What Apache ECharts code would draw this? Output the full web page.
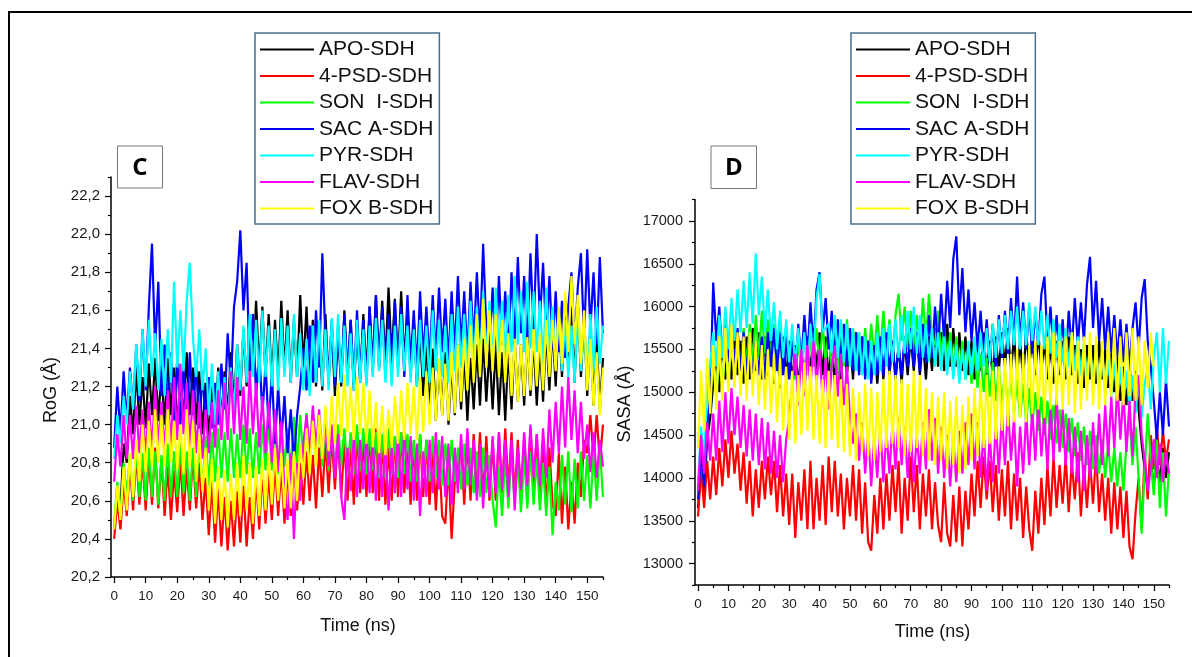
<!DOCTYPE html>
<html>
<head>
<meta charset="utf-8">
<script src="https://cdn.jsdelivr.net/npm/echarts@6/dist/echarts.min.js"></script>
<style>
html,body{margin:0;padding:0;background:#fff;}
#chart{width:1192px;height:657px;}
</style>
</head>
<body>
<div id="chart"></div>
<script>
// ---------- names / ticks ----------
const seriesNames = ['APO-SDH','4-PSD-SDH','SON  I-SDH','SAC A-SDH','PYR-SDH','FLAV-SDH','FOX B-SDH'];
const seriesColors = ['#000000','#ff0000','#00ff00','#0000ff','#00ffff','#ff00ff','#ffff00'];
const TIME_STEP = 1; // ns between samples
const xTicks = [0,10,20,30,40,50,60,70,80,90,100,110,120,130,140,150];
const xMinorTicks = [5,15,25,35,45,55,65,75,85,95,105,115,125,135,145,155];
const rogTicks = [20.2,20.4,20.6,20.8,21.0,21.2,21.4,21.6,21.8,22.0,22.2];
const rogMinorTicks = [20.3,20.5,20.7,20.9,21.1,21.3,21.5,21.7,21.9,22.1,22.3];
const sasaTicks = [13000,13500,14000,14500,15000,15500,16000,16500,17000];
const sasaMinorTicks = [12750,13250,13750,14250,14750,15250,15750,16250,16750,17250];

// ---------- RoG (panel C), one value per ns ----------
const rogAPO = [20.45,20.65,20.55,20.90,20.80, 21.15,20.95,21.30,21.00,21.25, 20.98,21.32,21.05,21.35,21.02, 21.28,21.00,21.35,21.05,21.30,
20.98,21.25,21.02,21.38,21.05, 21.30,21.00,21.28,20.95,21.22, 20.92,21.20,20.98,21.30,21.02, 21.28,21.05,21.38,21.10,21.42,
21.15,21.50,21.20,21.58,21.25, 21.65,21.28,21.62,21.25,21.58, 21.22,21.55,21.25,21.65,21.28, 21.60,21.22,21.55,21.25,21.68,
21.30,21.62,21.22,21.55,21.20, 21.50,21.18,21.58,21.22,21.52, 21.15,21.48,21.20,21.60,21.25, 21.55,21.18,21.50,21.22,21.58,
21.25,21.62,21.28,21.68,21.30, 21.65,21.32,21.72,21.35,21.66, 21.30,21.70,21.32,21.62,21.25, 21.55,21.20,21.50,21.15,21.45,
21.05,21.40,21.02,21.35,21.05, 21.38,21.00,21.32,21.05,21.42, 21.08,21.38,21.02,21.35,21.08, 21.42,21.10,21.45,21.12,21.40,
21.08,21.42,21.05,21.38,21.02, 21.40,21.08,21.45,21.12,21.42, 21.10,21.48,21.15,21.45,21.10, 21.42,21.12,21.50,21.18,21.52,
21.20,21.58,21.25,21.65,21.28, 21.62,21.22,21.66,21.25,21.58, 21.15,21.52,21.10,21.45,21.08,21.35];
const rogPSD = [20.40,20.60,20.45,20.70,20.52, 20.80,20.55,20.85,20.58,20.82, 20.55,20.84,20.58,20.88,20.56, 20.82,20.52,20.78,20.50,20.76,
20.54,20.82,20.52,20.78,20.55, 20.85,20.56,20.80,20.50,20.72, 20.42,20.70,20.38,20.66,20.36, 20.62,20.34,20.60,20.36,20.65,
20.38,20.68,20.36,20.62,20.40, 20.72,20.45,20.76,20.48,20.74, 20.50,20.80,20.52,20.78,20.48, 20.76,20.52,20.82,20.55,20.80,
20.58,20.86,20.60,20.84,20.56, 20.88,20.62,20.92,20.64,20.94, 20.66,20.96,20.62,20.92,20.60, 20.90,20.58,20.98,20.64,20.92,
20.62,20.95,20.64,20.98,20.60, 20.92,20.58,20.88,20.60,20.94, 20.62,20.96,20.64,20.90,20.58, 20.90,20.60,20.95,20.62,20.92,
20.58,20.90,20.55,20.86,20.52, 20.48,20.80,20.40,20.70,20.80, 20.88,20.58,20.92,20.60,20.95, 20.64,20.96,20.62,20.94,20.60,
20.92,20.60,20.96,20.64,20.98, 20.66,20.96,20.62,20.92,20.60, 20.94,20.62,20.98,20.66,20.95, 20.60,20.90,20.56,20.88,20.58,
20.52,20.85,20.48,20.78,20.45, 20.70,20.48,20.80,20.62,20.92, 20.85,21.05,20.82,21.05,20.80,21.00];
const rogSON = [20.48,20.70,20.52,20.80,20.62, 20.85,20.60,20.88,20.62,20.85, 20.60,20.88,20.62,20.86,20.58, 20.84,20.60,20.90,20.62,20.86,
20.62,20.90,20.64,20.86,20.60, 20.88,20.62,20.92,20.66,20.94, 20.68,20.96,20.70,20.98,20.72, 20.96,20.70,20.98,20.72,20.95,
20.72,21.00,20.74,20.98,20.72, 20.96,20.74,21.00,20.76,21.02, 20.76,21.00,20.74,21.02,20.78, 20.98,20.76,21.04,20.80,21.05,
20.80,21.06,20.82,21.04,20.80, 21.02,20.78,21.00,20.76,20.98, 20.76,21.00,20.78,20.98,20.74, 20.96,20.74,21.00,20.76,20.98,
20.74,20.98,20.76,20.96,20.72, 20.95,20.72,20.98,20.74,20.94, 20.72,20.96,20.74,20.95,20.70, 20.92,20.70,20.95,20.72,20.92,
20.70,20.94,20.72,20.92,20.68, 20.90,20.68,20.92,20.70,20.88, 20.66,20.90,20.68,20.88,20.64, 20.86,20.62,20.88,20.64,20.84,
20.60,20.46,20.78,20.52,20.84, 20.56,20.86,20.58,20.82,20.54, 20.84,20.56,20.86,20.58,20.82, 20.55,20.80,20.52,20.78,20.42,
20.70,20.55,20.84,20.58,20.86, 20.54,20.82,20.56,20.86,20.60, 20.84,20.56,20.86,20.60,20.88,20.62];
const rogSAC = [20.88,21.20,20.95,21.28,21.02, 21.30,21.08,21.42,21.12,21.50, 21.18,21.62,21.95,21.40,21.75, 21.15,21.42,21.05,21.38,21.02,
21.35,21.00,21.30,21.02,21.38, 21.05,21.32,20.98,21.28,21.00, 21.25,20.98,21.22,21.00,21.32, 21.08,21.48,21.20,21.62,21.75,
22.02,21.60,21.85,21.28,21.58, 21.15,21.40,21.05,21.32,20.98, 21.28,20.90,21.20,20.92,21.15, 20.85,21.08,20.80,21.05,21.20,
21.40,21.18,21.52,21.22,21.60, 21.30,21.90,21.45,21.25,21.55, 21.20,21.52,21.22,21.58,21.25, 21.55,21.20,21.60,21.25,21.55,
21.22,21.62,21.28,21.68,21.30, 21.62,21.25,21.58,21.28,21.65, 21.30,21.62,21.25,21.68,21.32, 21.60,21.28,21.70,21.35,21.62,
21.32,21.68,21.35,21.72,21.38, 21.66,21.32,21.70,21.38,21.78, 21.40,21.70,21.35,21.75,21.42, 21.80,21.45,21.95,21.50,21.40,
21.72,21.38,21.78,21.42,21.70, 21.38,21.80,21.45,21.88,21.48, 21.78,21.42,21.90,21.50,22.00, 21.55,21.85,21.45,21.78,21.40,
21.70,21.38,21.65,21.35,21.62, 21.80,21.42,21.72,21.90,21.45, 21.92,21.50,21.80,21.42,21.88,21.48];
const rogPYR = [20.82,21.05,20.90,21.15,21.00, 21.28,21.08,21.42,21.15,21.50, 21.20,21.55,21.25,21.48,21.18, 21.45,21.15,21.50,21.22,21.75,
21.30,21.60,21.28,21.65,21.85, 21.45,21.25,21.50,21.18,21.40, 21.05,21.32,21.00,21.28,20.98, 21.25,20.98,21.30,21.05,21.42,
21.18,21.52,21.22,21.58,21.25, 21.55,21.22,21.60,21.25,21.52, 21.20,21.50,21.18,21.56,21.25, 21.52,21.22,21.58,21.25,21.48,
21.18,21.45,21.15,21.52,21.22, 21.55,21.20,21.50,21.18,21.56, 21.25,21.58,21.22,21.52,21.20, 21.48,21.18,21.55,21.22,21.50,
21.20,21.52,21.25,21.56,21.28, 21.55,21.22,21.50,21.20,21.52, 21.25,21.58,21.28,21.52,21.22, 21.50,21.20,21.55,21.25,21.52,
21.22,21.60,21.28,21.55,21.25, 21.52,21.22,21.58,21.28,21.62, 21.30,21.58,21.28,21.65,21.32, 21.62,21.30,21.70,21.35,21.65,
21.32,21.72,21.38,21.65,21.35, 21.68,21.38,21.78,21.42,21.70, 21.38,21.75,21.40,21.70,21.38, 21.65,21.32,21.72,21.38,21.62,
21.30,21.60,21.28,21.55,21.25, 21.52,21.22,21.62,21.28,21.55, 21.22,21.58,21.28,21.62,21.32,21.52];
const rogFLAV = [20.70,20.95,20.78,21.05,20.82, 21.05,20.82,21.10,20.85,21.08, 20.84,21.12,20.86,21.20,20.88, 21.12,20.85,21.18,20.88,21.25,
20.92,21.32,20.95,21.22,20.88, 21.18,20.85,21.12,20.82,21.08, 20.85,21.12,20.88,21.18,20.92, 21.22,20.92,21.28,20.95,21.25,
20.92,21.20,20.90,21.28,20.95, 21.22,20.88,21.15,20.85,21.12, 20.80,21.08,20.75,21.02,20.65, 20.50,20.85,20.40,20.80,20.60,
20.90,21.05,20.85,21.10,20.88, 21.08,20.82,21.05,20.78,21.00, 20.72,20.95,20.62,20.50,20.88, 20.65,20.94,20.62,20.92,20.66,
20.96,20.64,20.92,20.60,20.90, 20.62,20.92,20.55,20.88,20.64, 20.95,20.62,20.98,20.66,20.94, 20.60,20.90,20.52,20.86,20.62,
20.92,20.64,20.96,20.66,20.94, 20.62,20.90,20.58,20.88,20.64, 20.95,20.66,20.98,20.68,20.92, 20.60,20.90,20.56,20.86,20.62,
20.94,20.64,20.96,20.66,20.92, 20.62,20.92,20.55,20.88,20.66, 20.96,20.68,21.00,20.72,20.95, 20.68,20.98,20.72,21.08,20.80,
21.12,20.85,21.20,20.88,21.25, 20.92,21.18,20.85,21.12,20.82, 21.00,20.75,20.96,20.72,20.92,20.78];
const rogFOX = [20.45,20.68,20.50,20.78,20.55, 20.85,20.62,20.92,20.70,21.00, 20.75,21.02,20.78,21.08,20.80, 21.05,20.78,21.08,20.80,21.02,
20.76,21.00,20.74,21.08,20.78, 21.02,20.70,20.95,20.65,20.88, 20.55,20.82,20.48,20.78,20.50, 20.76,20.46,20.74,20.50,20.80,
20.52,20.84,20.55,20.80,20.48, 20.78,20.52,20.82,20.55,20.85, 20.58,20.88,20.60,20.85,20.56, 20.82,20.56,20.86,20.60,20.90,
20.72,20.98,20.74,21.02,20.78, 21.05,20.82,21.10,20.86,21.15, 20.90,21.22,20.94,21.26,20.96, 21.20,20.92,21.25,20.95,21.22,
20.90,21.18,20.88,21.12,20.85, 21.10,20.84,21.08,20.88,21.15, 20.90,21.18,20.92,21.22,20.95, 21.20,20.92,21.25,20.96,21.28,
21.00,21.30,21.02,21.35,21.05, 21.32,21.02,21.38,21.06,21.42, 21.12,21.45,21.18,21.52,21.22, 21.58,21.25,21.66,21.30,21.60,
21.28,21.58,21.25,21.55,21.22, 21.48,21.15,21.45,21.12,21.42, 21.15,21.46,21.18,21.50,21.20, 21.48,21.18,21.55,21.25,21.55,
21.28,21.62,21.32,21.70,21.38, 21.78,21.42,21.68,21.32,21.60, 21.18,21.45,21.10,21.38,21.05,21.30];

// ---------- SASA (panel D), one value per ns ----------
const sasaAPO = [13650,14100,13800,14450,14700, 15100,15450,15000,15600,15150, 15650,15150,15700,15200,15600, 15100,15650,15150,15750,15250,
15700,15150,15650,15200,15600, 15100,15550,15050,15650,15150, 15600,15100,15550,15050,15500, 15150,15650,15200,15750,15250,
15700,15200,15650,15150,15600, 15100,15550,15150,15650,15200, 15600,15150,15700,15250,15650, 15200,15600,15150,15550,15100,
15550,15150,15650,15200,15600, 15150,15550,15100,15600,15200, 15650,15250,15700,15200,15600, 15150,15650,15250,15750,15300,
15700,15250,15800,15300,15750, 15300,15700,15250,15650,15200, 15600,15150,15650,15250,15700, 15200,15600,15150,15650,15250,
15700,15300,15750,15250,15650, 15200,15600,15150,15700,15300, 15650,15200,15700,15250,15600, 15150,15550,15100,15600,15200,
15600,15150,15650,15200,15550, 15100,15500,15050,15550,15150, 15550,15100,15600,15150,15500, 15050,15450,15000,15400,14900,
15300,14850,15350,14900,15250, 14800,14400,14100,13900,14200, 13900,14250,13950,14350,14000,14300];
const sasaPSD = [13550,14100,13650,14200,13750, 14250,13800,14350,13900,14450, 14000,14550,14050,14400,13850, 14300,13700,14200,13550,14100,
13650,14200,13750,14250,13800, 14200,13600,14150,13550,14050, 13450,14050,13300,13950,13500, 14100,13400,14200,13400,14000,
13500,14150,13450,14250,13600, 14200,13550,14050,13400,14000, 13550,14150,13500,14100,13350, 13950,13250,13150,13800,13350,
14000,13400,14050,13500,14150, 13600,14200,13350,14000,13500, 14250,13600,14150,13400,14050, 13550,14100,13400,13950,13450,
13250,13950,13350,13200,13800, 13250,13900,13200,13850,13400, 14050,13550,14200,13650,14250, 13750,14200,13600,14150,13500,
14100,13550,14200,13400,14050, 13500,14000,13300,13900,13400, 13150,13850,13350,14000,13450, 14150,13550,14250,13650,14150,
13700,14250,13600,14200,13750, 14300,13550,14150,13650,14200, 13700,14300,13600,14050,13500, 14000,13350,13950,13400,13900,
13300,13850,13200,13050,13600, 14000,13400,14300,13750,14500, 14100,14600,14150,14550,14200,14450];
const sasaSON = [13850,14400,14050,14700,14950, 15350,14950,15500,15050,15600, 15150,15650,15200,15700,15250, 15750,15300,15800,15350,15900,
15400,15950,15450,15850,15350, 15800,15300,15750,15250,15700, 15200,15650,15150,15600,15250, 15700,15200,15650,15300,15750,
15300,15800,15350,15750,15250, 15700,15200,15650,15300,15850, 15350,15750,15250,15700,15300, 15750,15350,15800,15400,15900,
15450,15950,15500,15850,15400, 15900,16150,15600,16000,15500, 15950,15450,15900,15500,16100, 15600,16150,15650,15550,15950,
15400,15800,15300,15700,15250, 15650,15200,15600,15150,15550, 15100,15500,15050,15450,15000, 15400,14950,15350,14900,15300,
14850,15250,14800,15200,14750, 15150,14700,15100,14650,15050, 14600,15000,14550,14950,14500, 14900,14450,14850,14400,14800,
14350,14750,14300,14700,14250, 14650,14200,14600,14150,14550, 14100,14500,14050,14450,14000, 14400,13950,14350,13900,14300,
13850,14400,14700,14150,14600, 14000,13350,14100,14750,14200, 13800,14450,13650,14300,13550,14100];
const sasaSAC = [13750,14300,13900,14600,14950, 16280,15600,16000,15400,15850, 15350,15800,15300,15750,15250, 15700,15200,15650,15150,15600,
15200,15650,15150,15700,15300, 15750,15250,15700,15200,15650, 15150,15600,15200,15800,15350, 15900,15400,16050,15500,16200,
16400,15700,16100,15500,15950, 15400,15850,15350,15800,15300, 15750,15250,15700,15200,15650, 15150,15600,15100,15550,15200,
15650,15200,15700,15250,15600, 15150,15550,15200,15650,15300, 15750,15300,15700,15250,15800, 15350,15900,15400,16000,15500,
16150,15600,16300,15750,16550, 16820,15900,16450,15700,16200, 15600,16050,15500,15950,15400, 15850,15350,15800,15300,15900,
15400,15950,15450,16100,15550, 16350,15600,16050,15500,16000, 15450,15950,15550,16150,16350, 15600,16000,15450,15900,15400,
15850,15350,15950,15500,16100, 15550,16050,15600,16250,16580, 15750,16300,15600,16100,15500, 16000,15450,15900,15400,15850,
15350,15800,15300,15750,16050, 15500,16100,16320,15600,15300, 14900,14450,15000,14500,15150,14600];
const sasaPYR = [13950,14600,14250,15000,15350, 15700,15300,15900,15400,16000, 15500,16100,15600,16200,15700, 16300,15750,16400,15800,16620,
15900,16350,15700,16200,15600, 16050,15500,15950,15400,15850, 15350,15800,15300,15750,15250, 15700,15200,15800,15350,16100,
16380,15700,15750,15800,15450, 15900,15400,15850,15350,15800, 15300,15750,15250,15700,15200, 15650,15150,15600,15200,15700,
15250,15750,15300,15800,15350, 15850,15400,15900,15450,15950, 15500,16000,15450,15900,15400, 15800,15350,15750,15300,15700,
15250,15650,15200,15600,15150, 15550,15100,15500,15150,15600, 15200,15650,15250,15700,15300, 15750,15350,15800,15400,15850,
15450,15900,15500,15950,15550, 16000,15500,15950,15550,16050, 15600,16000,15550,15950,15500, 15900,15450,15850,15400,15800,
15350,15750,15300,15700,15250, 15650,15200,15600,15150,15550, 15100,15500,15050,15450,15000, 15400,14950,15350,14900,15300,
14850,15250,14800,15200,14750, 15150,14700,15100,15300,14800, 15400,15700,15000,15750,15100,15600];
const sasaFLAV = [13850,14500,14050,14650,14200, 14750,14200,14900,14300,15000, 14400,15050,14500,14950,14350, 14850,14250,14800,14200,14750,
14150,14700,14100,14650,14050, 14550,14000,14500,13950,14450, 14700,15100,15450,14850,15500, 14950,15550,15050,15600,15100,
15500,14900,15400,14800,15300, 15550,14950,15450,14850,15300, 14700,14400,14750,14200,14650, 14050,14550,13900,14500,14000,
14600,13950,14550,14050,14650, 14100,14700,14150,14600,14000, 14550,13950,14500,14050,14650, 14100,14800,14200,14700,14050,
14600,14000,14500,13900,14450, 13950,14550,14050,14650,14150, 14750,14100,14650,14000,14550, 13850,14500,13950,14650,14050,
14750,14150,14850,14200,14700, 13900,14600,14050,14750,14150, 14800,14200,14900,14250,14750, 14100,14850,14200,14950,14300,
14800,14150,14700,14050,14600, 13950,14550,13850,14500,14000, 14650,14050,14750,14150,14850, 14250,14950,14350,15100,14450,
15000,14300,14900,14250,15050, 15200,14500,14200,13850,14100, 14450,14000,14400,13950,14300,14050];
const sasaFOX = [14350,15250,14550,15400,14750, 15550,14800,15650,14900,15750, 15000,15800,15050,15700,14950, 15650,14900,15700,14950,15600,
14850,15550,14800,15500,14750, 15450,14650,15400,14550,15300, 14450,15250,14400,15200,14500, 15350,14550,15300,14450,15200,
14400,15150,14350,15250,14450, 15200,14350,15150,14300,15100, 14250,15050,14200,15000,14300, 15100,14250,15050,14200,15000,
14300,15150,14350,15250,14400, 15200,14350,15150,14250,15100, 14300,15250,14350,15200,14250, 15050,14200,15000,14150,14950,
14200,15000,14100,14900,14150, 14950,14050,14850,14100,14950, 14200,15050,14250,15150,14350, 15200,14400,15250,14450,15300,
14550,15400,14600,15450,14650, 15500,14700,15450,14650,15550, 14750,15600,14800,15550,14700, 15650,14800,15700,14850,15600,
14800,15650,14850,15700,14750, 15600,14800,15650,14900,15700, 14850,15650,14800,15600,14850, 15700,14950,15750,14900,15650,
14850,15700,14950,15750,14900, 15650,14850,15600,15050,15700, 15300];

const rogData = [rogAPO, rogPSD, rogSON, rogSAC, rogPYR, rogFLAV, rogFOX];
const sasaData = [sasaAPO, sasaPSD, sasaSON, sasaSAC, sasaPYR, sasaFLAV, sasaFOX];

// ---------- chart ----------
const FONT = "'Liberation Sans', Arial, sans-serif";
const chart = echarts.init(document.getElementById('chart'), null, {renderer: 'canvas'});

function pairs(arr){ return arr.map((v, i) => [i * TIME_STEP, v]); }

function xAxisPair(gi){
  return [
    {gridIndex: gi, type: 'value', position: 'bottom', min: -1, max: 155,
      axisLine: {show: true, onZero: false, lineStyle: {color: '#000', width: 1.5}},
      axisTick: {show: true, customValues: xTicks, length: 6, lineStyle: {color: '#000', width: 1.2}},
      axisLabel: {customValues: xTicks, fontSize: 13.5, fontFamily: FONT, color: '#1a1a1a', margin: 12},
      splitLine: {show: false}},
    {gridIndex: gi, type: 'value', position: 'bottom', min: -1, max: 155,
      axisLine: {show: false, onZero: false},
      axisTick: {show: true, customValues: xMinorTicks, length: 3, lineStyle: {color: '#000', width: 1.2}},
      axisLabel: {show: false}, splitLine: {show: false}}
  ];
}

const rogFmt = v => v.toFixed(1).replace('.', ',');
const sasaFmt = v => String(Math.round(v));

const LW = 2.2;
const option = {
  backgroundColor: '#ffffff',
  animation: false,
  color: seriesColors,
  grid: [
    {left: 111, top: 177, right: 589, bottom: 80, containLabel: false},
    {left: 695, top: 199.5, right: 23, bottom: 72, containLabel: false}
  ],
  legend: [
    {orient: 'vertical', left: 255, top: 33, icon: 'rect', itemWidth: 54, itemHeight: 2, itemGap: 5.5,
      padding: [6, 6, 5, 5], borderColor: '#46708f', borderWidth: 1.5, backgroundColor: '#fff',
      textStyle: {fontSize: 21, fontFamily: FONT, color: '#111', lineHeight: 21},
      data: seriesNames, selectedMode: false},
    {orient: 'vertical', left: 851, top: 33, icon: 'rect', itemWidth: 54, itemHeight: 2, itemGap: 5.5,
      padding: [6, 6, 5, 5], borderColor: '#46708f', borderWidth: 1.5, backgroundColor: '#fff',
      textStyle: {fontSize: 21, fontFamily: FONT, color: '#111', lineHeight: 21},
      data: seriesNames, selectedMode: false}
  ],
  xAxis: [...xAxisPair(0), ...xAxisPair(1)],
  yAxis: [
    {gridIndex: 0, type: 'value', position: 'left', min: 20.2, max: 22.3,
      axisLine: {show: true, onZero: false, lineStyle: {color: '#000', width: 1.5}},
      axisTick: {show: true, customValues: rogTicks, length: 6, lineStyle: {color: '#000', width: 1.2}},
      axisLabel: {customValues: rogTicks, formatter: rogFmt, fontSize: 15, fontFamily: FONT, color: '#1a1a1a', margin: 11},
      splitLine: {show: false}},
    {gridIndex: 0, type: 'value', position: 'left', min: 20.2, max: 22.3,
      axisLine: {show: false, onZero: false},
      axisTick: {show: true, customValues: rogMinorTicks, length: 3, lineStyle: {color: '#000', width: 1.2}},
      axisLabel: {show: false}, splitLine: {show: false}},
    {gridIndex: 1, type: 'value', position: 'left', min: 12750, max: 17250,
      axisLine: {show: true, onZero: false, lineStyle: {color: '#000', width: 1.5}},
      axisTick: {show: true, customValues: sasaTicks, length: 6, lineStyle: {color: '#000', width: 1.2}},
      axisLabel: {customValues: sasaTicks, formatter: sasaFmt, fontSize: 14.5, fontFamily: FONT, color: '#1a1a1a', margin: 12},
      splitLine: {show: false}},
    {gridIndex: 1, type: 'value', position: 'left', min: 12750, max: 17250,
      axisLine: {show: false, onZero: false},
      axisTick: {show: true, customValues: sasaMinorTicks, length: 3, lineStyle: {color: '#000', width: 1.2}},
      axisLabel: {show: false}, splitLine: {show: false}}
  ],
  series: [
    ...seriesNames.map((name, k) => ({
      name, type: 'line', xAxisIndex: 0, yAxisIndex: 0, data: pairs(rogData[k]),
      symbol: 'none', showSymbol: false, lineStyle: {width: LW, color: seriesColors[k]},
      itemStyle: {color: seriesColors[k]}, silent: true
    })),
    ...seriesNames.map((name, k) => ({
      name, type: 'line', xAxisIndex: 2, yAxisIndex: 2, data: pairs(sasaData[k]),
      symbol: 'none', showSymbol: false, lineStyle: {width: LW, color: seriesColors[k]},
      itemStyle: {color: seriesColors[k]}, silent: true
    }))
  ],
  graphic: [
    {type: 'rect', shape: {x: 9, y: 12, width: 1400, height: 900}, style: {fill: 'none', stroke: '#000', lineWidth: 2}, silent: true, z: 100},
    {type: 'rect', shape: {x: 117.5, y: 146, width: 45, height: 42}, style: {fill: '#fff', stroke: '#777', lineWidth: 1}, z: 100},
    {type: 'text', x: 140, y: 168, style: {text: 'C', font: "bold 24px 'Open Sans', 'DejaVu Sans', sans-serif", fill: '#000', textAlign: 'center', textVerticalAlign: 'middle'}, z: 101},
    {type: 'rect', shape: {x: 711, y: 146, width: 45.5, height: 42.5}, style: {fill: '#fff', stroke: '#777', lineWidth: 1}, z: 100},
    {type: 'text', x: 733.8, y: 168, style: {text: 'D', font: "bold 24px 'Open Sans', 'DejaVu Sans', sans-serif", fill: '#000', textAlign: 'center', textVerticalAlign: 'middle'}, z: 101},
    {type: 'text', x: 51, y: 390, rotation: Math.PI / 2, style: {text: 'RoG (Å)', font: "18px 'Liberation Sans', Arial, sans-serif", fill: '#111', textAlign: 'center', textVerticalAlign: 'middle'}, z: 101},
    {type: 'text', x: 358, y: 626, style: {text: 'Time (ns)', font: "18px 'Liberation Sans', Arial, sans-serif", fill: '#111', textAlign: 'center', textVerticalAlign: 'middle'}, z: 101},
    {type: 'text', x: 625.5, y: 404, rotation: Math.PI / 2, style: {text: 'SASA (Å)', font: "18px 'Liberation Sans', Arial, sans-serif", fill: '#111', textAlign: 'center', textVerticalAlign: 'middle'}, z: 101},
    {type: 'text', x: 932.5, y: 632, style: {text: 'Time (ns)', font: "18px 'Liberation Sans', Arial, sans-serif", fill: '#111', textAlign: 'center', textVerticalAlign: 'middle'}, z: 101}
  ]
};
chart.setOption(option);
</script>
</body>
</html>
